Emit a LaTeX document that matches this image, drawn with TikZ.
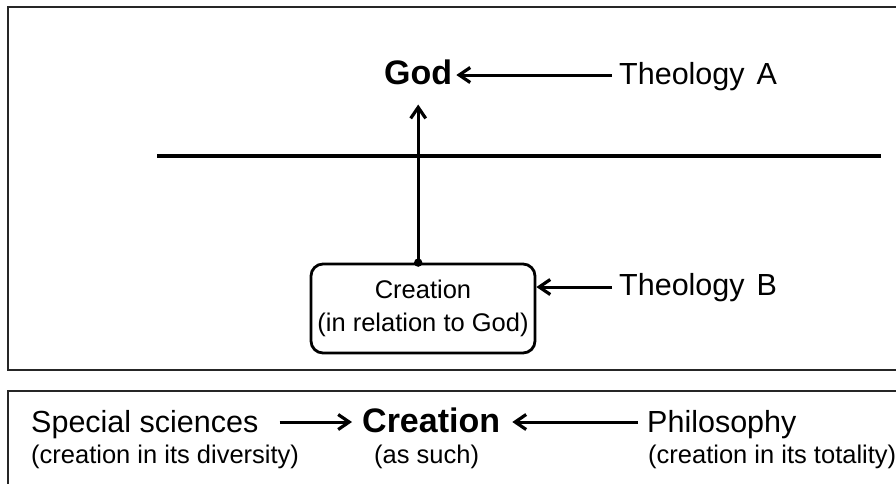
\documentclass[tikz,border=0pt]{standalone}
\usepackage{fontspec}
\setmainfont{Liberation Sans}
\usetikzlibrary{arrows.meta,calc}
\begin{document}
\begin{tikzpicture}[x=1pt,y=-1pt,
  lbl/.style={inner sep=0pt, anchor=base west, font=\fontsize{30.5}{36}\selectfont},
  sublbl/.style={inner sep=0pt, anchor=base west, font=\fontsize{25.5}{30}\selectfont},
  biglbl/.style={inner sep=0pt, anchor=base west, font=\fontsize{34}{40}\selectfont\bfseries},
  arr/.style={line width=3pt, -{Straight Barb[length=11pt,width=15pt,line width=3.2pt]}},
  framestyle/.style={line width=2pt, draw=black!85},
  crbox/.style={draw, line width=2.8pt, rounded corners=12pt, minimum width=224pt,
    minimum height=89pt, align=center, inner sep=0pt, font=\fontsize{25.5}{33}\selectfont}]
\useasboundingbox (0,0) rectangle (896,483);
% frames
\draw[framestyle] (900,7) -- (8,7) -- (8,370) -- (900,370);
\draw[framestyle] (900,391) -- (8,391) -- (8,490);
% dividing line
\draw[line width=3.2pt] (157,156) -- (881,156);
% top part
\node[biglbl] (god) at (384,84) {God};
\node[lbl] (thA) at (619,84) {Theology\hspace{12pt}A};
\draw[arr] ($(thA.base west)+(-7,-9)$) -- ($(god.base east)+(4,-9)$);
\node[crbox] (box) at (423,308.5) {Creation\\(in relation to God)};
\coordinate (dot) at (box.north -| god);
\draw[arr] (dot) -- ($(god.south)+(0,20)$);
\fill (dot) circle (4.2pt);
\node[lbl] (thB) at (619,295) {Theology\hspace{12pt}B};
\coordinate (tbB) at ($(thB.base west)+(-7,-8)$);
\draw[arr] (tbB) -- (tbB -| box.east);
% bottom part
\node[lbl] (ss) at (31,432) {Special sciences};
\node[sublbl] (ssd) at (31,463) {(creation in its diversity)};
\node[biglbl] (cr) at (362,432) {Creation};
\node[sublbl] (as) at (374,463) {(as such)};
\node[lbl] (ph) at (647,432) {Philosophy};
\node[sublbl] (pht) at (648,463) {(creation in its totality)};
\draw[arr] ($(ss.base east)+(21,-10)$) -- ($(cr.base west)+(-10,-10)$);
\draw[arr] ($(ph.base west)+(-9,-10)$) -- ($(cr.base east)+(12,-10)$);
\end{tikzpicture}
\end{document}
